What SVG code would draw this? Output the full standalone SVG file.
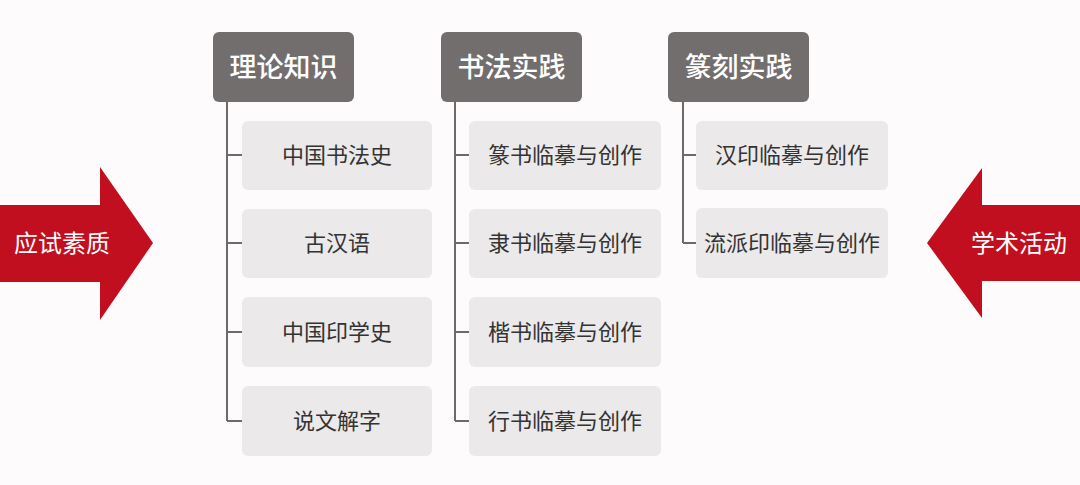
<svg xmlns="http://www.w3.org/2000/svg" width="1080" height="485" viewBox="0 0 1080 485">
<style>
.hdr{fill:#736e6e}
.hdr-t{fill:#ffffff;font-family:"Noto Sans CJK SC","Noto Sans",sans-serif;font-size:27px;font-weight:500;text-anchor:middle;dominant-baseline:central}
.box{fill:#ebe9ea}
.box-t{fill:#333333;font-family:"Noto Sans CJK SC","Noto Sans",sans-serif;font-size:22px;text-anchor:middle;dominant-baseline:central}
.arr{fill:#c20f1f}
.arr-t{fill:#ffffff;font-family:"Noto Sans CJK SC","Noto Sans",sans-serif;font-size:24px;text-anchor:middle;dominant-baseline:central}
.ln{stroke:#6e6a6a;stroke-width:2;fill:none}
</style>
<rect width="1080" height="485" fill="#fdfbfb"/>
<g id="connectors">
<path class="ln" d="M227,102 V421 M227,155 H242 M227,243 H242 M227,332 H242 M227,421 H242"/>
<path class="ln" d="M455,102 V421 M455,155 H469 M455,243 H469 M455,332 H469 M455,421 H469"/>
<path class="ln" d="M683,102 V243 M683,155 H696 M683,243 H696"/>
</g>
<g id="arrow-left"><path class="arr" d="M0,205 H100 V167 L153,243 L100,320 V282 H0 Z"/><text class="arr-t" x="62" y="241">应试素质</text></g>
<g id="arrow-right"><path class="arr" d="M1080,205 H982 V168 L927,243 L982,318 V281 H1080 Z"/><text class="arr-t" x="1019" y="241">学术活动</text></g>
<g id="h1"><rect class="hdr" x="213" y="32" width="141" height="70" rx="6"/><text class="hdr-t" x="283.5" y="65">理论知识</text></g>
<g id="h2"><rect class="hdr" x="441" y="32" width="141" height="70" rx="6"/><text class="hdr-t" x="511.5" y="65">书法实践</text></g>
<g id="h3"><rect class="hdr" x="668" y="32" width="141" height="70" rx="6"/><text class="hdr-t" x="738.5" y="65">篆刻实践</text></g>
<g id="c1a"><rect class="box" x="242" y="121" width="190" height="69" rx="6"/><text class="box-t" x="337" y="153">中国书法史</text></g>
<g id="c1b"><rect class="box" x="242" y="209" width="190" height="69" rx="6"/><text class="box-t" x="337" y="241">古汉语</text></g>
<g id="c1c"><rect class="box" x="242" y="297" width="190" height="70" rx="6"/><text class="box-t" x="337" y="330">中国印学史</text></g>
<g id="c1d"><rect class="box" x="242" y="386" width="190" height="70" rx="6"/><text class="box-t" x="337" y="419">说文解字</text></g>
<g id="c2a"><rect class="box" x="469" y="121" width="192" height="69" rx="6"/><text class="box-t" x="565" y="153">篆书临摹与创作</text></g>
<g id="c2b"><rect class="box" x="469" y="209" width="192" height="69" rx="6"/><text class="box-t" x="565" y="241">隶书临摹与创作</text></g>
<g id="c2c"><rect class="box" x="469" y="297" width="192" height="70" rx="6"/><text class="box-t" x="565" y="330">楷书临摹与创作</text></g>
<g id="c2d"><rect class="box" x="469" y="386" width="192" height="70" rx="6"/><text class="box-t" x="565" y="419">行书临摹与创作</text></g>
<g id="c3a"><rect class="box" x="696" y="121" width="192" height="69" rx="6"/><text class="box-t" x="792" y="153">汉印临摹与创作</text></g>
<g id="c3b"><rect class="box" x="696" y="208" width="192" height="70" rx="6"/><text class="box-t" x="792" y="241">流派印临摹与创作</text></g>
</svg>
